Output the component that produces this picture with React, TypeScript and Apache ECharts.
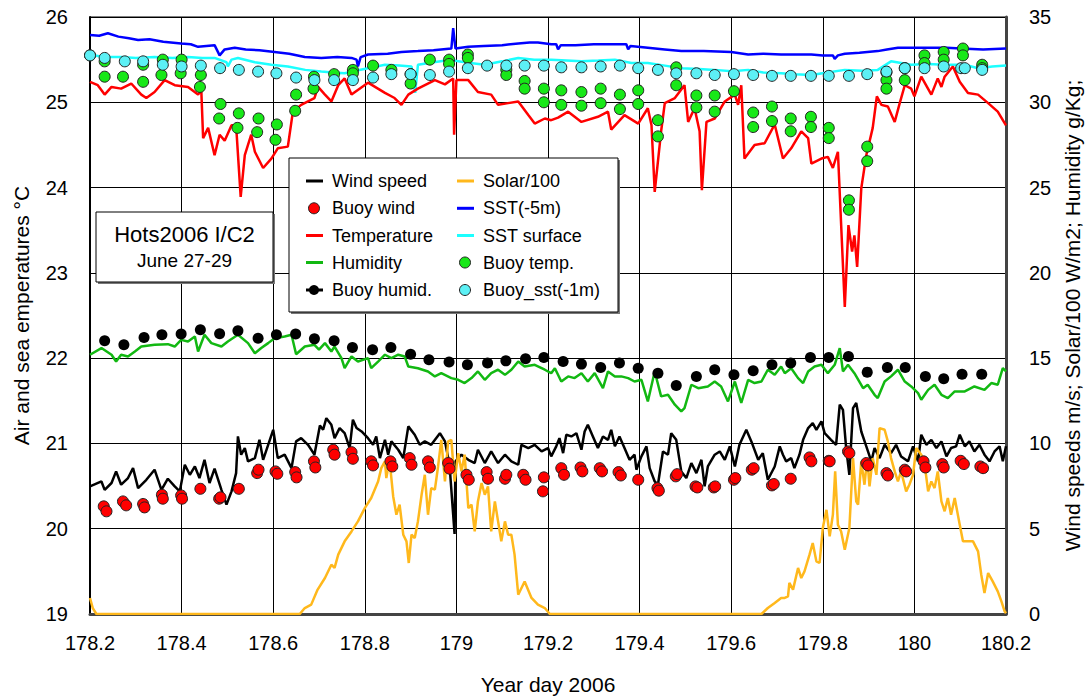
import React, { useEffect, useRef } from "react";
import * as echarts from "echarts";

const FONT = "'Liberation Sans', Arial, Helvetica, sans-serif";

// Axis ranges / ticks
const xMin = 178.2;
const xMax = 180.2;
const xStep = 0.2;
const leftMin = 19;
const leftMax = 26;
const rightMin = 0;
const rightMax = 35;
const rightStep = 5;

// Wind speed m/s (right axis)
const windSpeed: [number, number][] = [
  [178.200, 7.48], [178.225, 7.77], [178.232, 7.28], [178.247, 7.68], [178.257, 8.36], [178.268, 7.58],
  [178.283, 7.97], [178.294, 8.55], [178.305, 7.38], [178.323, 7.87], [178.341, 8.46], [178.356, 7.28],
  [178.370, 7.93], [178.385, 7.48], [178.396, 7.19], [178.407, 8.75], [178.418, 8.16], [178.429, 8.65],
  [178.439, 7.97], [178.450, 9.04], [178.461, 7.68], [178.472, 8.52], [178.487, 7.28], [178.498, 6.41],
  [178.509, 7.19], [178.519, 8.26], [178.523, 10.41], [178.530, 9.34], [178.538, 9.73], [178.545, 8.95],
  [178.560, 9.14], [178.570, 10.21], [178.578, 9.04], [178.589, 9.92], [178.600, 10.80], [178.610, 9.14],
  [178.625, 9.34], [178.640, 8.55], [178.650, 10.12], [178.661, 10.31], [178.676, 9.92], [178.690, 9.34],
  [178.702, 11.05], [178.709, 10.80], [178.716, 11.48], [178.727, 11.09], [178.734, 10.31], [178.745, 10.90],
  [178.756, 10.60], [178.767, 9.73], [178.774, 11.39], [178.782, 10.90], [178.793, 10.70], [178.807, 10.31],
  [178.818, 9.92], [178.825, 10.41], [178.833, 9.14], [178.844, 10.21], [178.851, 9.34], [178.858, 10.12],
  [178.873, 9.63], [178.884, 9.14], [178.895, 11.00], [178.909, 10.51], [178.920, 9.92], [178.931, 10.12],
  [178.945, 9.92], [178.964, 10.60], [178.975, 10.12], [178.985, 8.75], [178.996, 4.69], [178.998, 8.95],
  [179.011, 9.34], [179.026, 9.04], [179.040, 8.85], [179.047, 9.63], [179.062, 8.85], [179.076, 9.53],
  [179.091, 8.85], [179.106, 9.34], [179.120, 8.95], [179.135, 8.75], [179.142, 9.92], [179.157, 9.73],
  [179.171, 9.92], [179.186, 9.53], [179.200, 9.73], [179.207, 9.24], [179.218, 9.83], [179.225, 10.31],
  [179.233, 9.43], [179.240, 10.51], [179.251, 10.41], [179.262, 10.60], [179.273, 9.63], [179.280, 10.70],
  [179.287, 11.09], [179.298, 10.41], [179.309, 9.73], [179.320, 10.41], [179.331, 10.21], [179.338, 10.80],
  [179.346, 9.83], [179.356, 10.41], [179.367, 9.73], [179.378, 9.04], [179.389, 9.34], [179.393, 8.46],
  [179.404, 9.24], [179.415, 9.83], [179.422, 8.55], [179.433, 7.77], [179.440, 7.58], [179.451, 9.53],
  [179.462, 9.34], [179.469, 10.60], [179.480, 10.21], [179.491, 8.36], [179.502, 7.97], [179.513, 8.85],
  [179.524, 8.26], [179.535, 9.04], [179.542, 7.48], [179.549, 8.65], [179.564, 9.34], [179.575, 9.53],
  [179.586, 9.04], [179.597, 9.83], [179.608, 8.65], [179.618, 9.92], [179.633, 10.80], [179.644, 10.12],
  [179.659, 9.04], [179.669, 9.43], [179.680, 7.87], [179.695, 8.65], [179.706, 9.83], [179.713, 9.34],
  [179.720, 8.95], [179.731, 9.14], [179.738, 8.55], [179.749, 9.34], [179.757, 10.21], [179.768, 10.90],
  [179.778, 11.19], [179.786, 10.80], [179.797, 11.29], [179.804, 10.60], [179.818, 10.21], [179.829, 9.92],
  [179.837, 12.27], [179.844, 11.97], [179.851, 9.73], [179.858, 8.16], [179.866, 12.07], [179.873, 12.37],
  [179.884, 10.70], [179.895, 9.83], [179.906, 8.95], [179.913, 9.73], [179.924, 9.14], [179.935, 9.92],
  [179.949, 9.43], [179.960, 9.92], [179.971, 9.24], [179.986, 8.95], [179.997, 9.83], [180.008, 8.95],
  [180.015, 10.51], [180.026, 9.92], [180.037, 10.21], [180.048, 9.73], [180.059, 10.12], [180.070, 9.24],
  [180.080, 9.73], [180.091, 9.83], [180.099, 10.51], [180.110, 9.83], [180.120, 10.12], [180.131, 9.53],
  [180.142, 9.92], [180.153, 9.34], [180.164, 8.95], [180.175, 9.53], [180.186, 9.83], [180.193, 8.95],
  [180.200, 9.83],
];

// Buoy wind m/s (right axis)
const buoyWind: [number, number][] = [
  [178.199, 6.37], [178.230, 6.31], [178.236, 6.02], [178.272, 6.60], [178.279, 6.37], [178.316, 6.45],
  [178.319, 6.25], [178.357, 6.99], [178.359, 6.76], [178.399, 6.95], [178.401, 6.76], [178.441, 7.34],
  [178.482, 6.76], [178.485, 6.84], [178.525, 7.34], [178.565, 8.26], [178.568, 8.46], [178.605, 8.36],
  [178.609, 8.22], [178.648, 8.32], [178.651, 8.01], [178.689, 8.95], [178.692, 8.59], [178.731, 9.63],
  [178.734, 9.34], [178.771, 9.49], [178.774, 9.10], [178.814, 8.95], [178.818, 8.71], [178.856, 8.95],
  [178.860, 8.65], [178.898, 9.14], [178.902, 8.75], [178.938, 8.95], [178.942, 8.59], [178.982, 8.85],
  [178.985, 8.52], [179.022, 8.16], [179.027, 7.87], [179.066, 8.32], [179.069, 7.93], [179.106, 7.93],
  [179.109, 8.16], [179.146, 8.16], [179.151, 7.87], [179.191, 8.01], [179.189, 7.19], [179.229, 8.55],
  [179.235, 8.16], [179.271, 8.59], [179.275, 8.36], [179.313, 8.55], [179.318, 8.36], [179.354, 8.32],
  [179.359, 8.12], [179.397, 7.87], [179.439, 7.38], [179.442, 7.23], [179.479, 8.07], [179.482, 8.20],
  [179.522, 7.48], [179.526, 7.42], [179.562, 7.42], [179.565, 7.48], [179.606, 7.87], [179.609, 7.97],
  [179.645, 8.46], [179.649, 8.55], [179.689, 7.54], [179.693, 7.62], [179.730, 7.93], [179.771, 9.18],
  [179.775, 8.95], [179.813, 8.98], [179.815, 8.95], [179.855, 9.53], [179.858, 9.43], [179.895, 8.85],
  [179.899, 8.71], [179.939, 8.26], [179.942, 8.12], [179.979, 8.46], [179.982, 8.36], [180.020, 8.95],
  [180.024, 8.59], [180.061, 8.79], [180.064, 8.59], [180.101, 8.98], [180.108, 8.79], [180.144, 8.65],
  [180.150, 8.55],
];

// Air temperature degC (left axis)
const temperature: [number, number][] = [
  [178.200, 25.24], [178.217, 25.20], [178.232, 25.09], [178.247, 25.18], [178.268, 25.16], [178.290, 25.22],
  [178.312, 25.09], [178.323, 25.05], [178.341, 25.12], [178.363, 25.26], [178.385, 25.20], [178.414, 25.18],
  [178.436, 25.09], [178.443, 25.14], [178.447, 24.58], [178.458, 24.70], [178.472, 24.38], [178.483, 24.62],
  [178.494, 24.55], [178.509, 24.73], [178.519, 24.73], [178.529, 23.89], [178.538, 24.38], [178.552, 24.62],
  [178.560, 24.42], [178.578, 24.23], [178.596, 24.34], [178.610, 24.46], [178.632, 24.48], [178.643, 24.89],
  [178.661, 24.97], [178.690, 25.05], [178.698, 25.18], [178.713, 25.09], [178.727, 25.01], [178.742, 25.20],
  [178.756, 25.28], [178.771, 25.09], [178.807, 25.23], [178.844, 25.11], [178.865, 25.05], [178.880, 24.97],
  [178.895, 25.09], [178.916, 25.16], [178.953, 25.26], [178.975, 25.21], [178.993, 25.28], [178.995, 24.62],
  [179.000, 25.26], [179.026, 25.26], [179.047, 25.12], [179.076, 25.09], [179.091, 24.97], [179.113, 24.99],
  [179.135, 25.01], [179.157, 24.85], [179.171, 24.75], [179.193, 24.81], [179.207, 24.79], [179.222, 24.82],
  [179.244, 24.89], [179.273, 24.77], [179.309, 24.83], [179.331, 24.89], [179.338, 24.68], [179.367, 24.85],
  [179.397, 24.75], [179.418, 24.93], [179.426, 24.73], [179.433, 23.95], [179.447, 24.66], [179.455, 24.99],
  [179.477, 25.05], [179.498, 25.20], [179.506, 24.77], [179.520, 24.93], [179.531, 24.66], [179.536, 23.97],
  [179.546, 24.77], [179.564, 24.81], [179.586, 25.01], [179.608, 25.09], [179.615, 24.97], [179.622, 25.20],
  [179.629, 24.34], [179.651, 24.50], [179.673, 24.52], [179.695, 24.74], [179.713, 24.34], [179.731, 24.46],
  [179.753, 24.66], [179.768, 24.58], [179.775, 24.28], [179.797, 24.34], [179.811, 24.36], [179.822, 24.23],
  [179.833, 24.42], [179.848, 22.60], [179.856, 23.56], [179.864, 23.25], [179.869, 23.44], [179.875, 23.07],
  [179.884, 23.99], [179.895, 24.38], [179.909, 24.70], [179.918, 25.07], [179.928, 24.97], [179.942, 24.95],
  [179.957, 24.77], [179.968, 24.99], [179.979, 25.20], [179.993, 25.16], [180.000, 25.07], [180.015, 25.30],
  [180.037, 25.09], [180.051, 25.28], [180.059, 25.18], [180.066, 25.30], [180.084, 25.42], [180.099, 25.24],
  [180.117, 25.11], [180.139, 25.09], [180.161, 24.99], [180.182, 24.89], [180.200, 24.73],
];

// Humidity g/kg (right axis)
const humidity: [number, number][] = [
  [178.200, 15.20], [178.225, 15.59], [178.247, 15.20], [178.257, 14.80], [178.268, 15.20], [178.283, 15.10],
  [178.298, 15.39], [178.312, 15.68], [178.341, 15.78], [178.370, 15.82], [178.385, 15.68], [178.399, 16.07],
  [178.414, 15.98], [178.429, 16.27], [178.436, 15.39], [178.450, 16.37], [178.465, 15.88], [178.487, 15.68],
  [178.501, 15.98], [178.523, 16.37], [178.545, 15.88], [178.560, 15.29], [178.574, 15.59], [178.589, 15.88],
  [178.603, 16.17], [178.625, 16.27], [178.640, 16.37], [178.650, 15.23], [178.669, 15.68], [178.690, 15.78],
  [178.700, 15.50], [178.713, 15.88], [178.727, 15.39], [178.734, 15.68], [178.749, 15.00], [178.756, 14.41],
  [178.771, 15.10], [178.785, 14.80], [178.807, 15.00], [178.814, 14.41], [178.829, 14.80], [178.844, 15.20],
  [178.858, 15.00], [178.873, 15.20], [178.887, 15.10], [178.895, 14.51], [178.916, 14.41], [178.938, 14.22],
  [178.953, 13.93], [178.967, 14.12], [178.989, 13.83], [179.004, 13.73], [179.018, 13.54], [179.033, 13.83],
  [179.047, 14.22], [179.062, 13.73], [179.076, 14.12], [179.091, 14.32], [179.106, 14.02], [179.120, 14.32],
  [179.135, 14.80], [179.149, 14.51], [179.171, 14.61], [179.193, 14.32], [179.207, 14.12], [179.215, 14.41],
  [179.229, 13.63], [179.244, 13.93], [179.258, 13.83], [179.273, 14.12], [179.287, 13.63], [179.302, 14.12],
  [179.320, 13.24], [179.331, 14.22], [179.346, 13.93], [179.360, 13.93], [179.375, 13.83], [179.389, 13.63],
  [179.404, 13.73], [179.418, 12.46], [179.433, 14.22], [179.447, 12.76], [179.462, 12.85], [179.477, 12.27],
  [179.491, 11.88], [179.498, 12.07], [179.513, 13.44], [179.528, 13.24], [179.549, 13.34], [179.564, 13.63],
  [179.578, 13.34], [179.593, 12.46], [179.608, 13.63], [179.622, 12.37], [179.637, 13.73], [179.651, 13.54],
  [179.666, 13.63], [179.680, 14.32], [179.695, 14.02], [179.709, 14.51], [179.717, 14.12], [179.731, 14.41],
  [179.746, 13.83], [179.757, 13.54], [179.768, 14.22], [179.782, 14.51], [179.797, 14.61], [179.811, 14.12],
  [179.826, 14.61], [179.837, 15.59], [179.844, 14.22], [179.855, 14.61], [179.869, 14.12], [179.888, 13.24],
  [179.898, 13.44], [179.913, 12.85], [179.920, 12.66], [179.935, 13.63], [179.949, 13.93], [179.964, 14.32],
  [179.979, 13.63], [179.993, 13.34], [180.008, 12.95], [180.015, 12.56], [180.030, 13.14], [180.044, 13.44],
  [180.059, 12.85], [180.073, 12.66], [180.088, 13.05], [180.110, 13.05], [180.131, 13.34], [180.153, 13.14],
  [180.168, 13.54], [180.182, 13.44], [180.193, 14.41], [180.200, 14.22],
];

// Buoy humidity g/kg (right axis)
const buoyHumid: [number, number][] = [
  [178.199, 15.88], [178.232, 16.02], [178.274, 15.78], [178.318, 16.21], [178.357, 16.37], [178.399, 16.41],
  [178.441, 16.66], [178.483, 16.43], [178.523, 16.60], [178.567, 16.17], [178.607, 16.37], [178.649, 16.41],
  [178.690, 16.13], [178.733, 16.02], [178.773, 15.63], [178.817, 15.49], [178.857, 15.63], [178.900, 15.23],
  [178.940, 14.90], [178.984, 14.77], [179.024, 14.61], [179.068, 14.71], [179.108, 14.84], [179.151, 14.96],
  [179.191, 15.04], [179.233, 14.80], [179.273, 14.65], [179.315, 14.45], [179.356, 14.71], [179.397, 14.41],
  [179.440, 14.12], [179.480, 13.40], [179.524, 13.93], [179.564, 14.32], [179.606, 14.02], [179.648, 14.26],
  [179.689, 14.61], [179.730, 14.71], [179.773, 15.04], [179.813, 15.04], [179.856, 15.10], [179.897, 14.18],
  [179.941, 14.45], [179.980, 14.45], [180.024, 13.93], [180.064, 13.79], [180.104, 14.06], [180.147, 14.06],
];

// Solar radiation / 100 (right axis)
const solar: [number, number][] = [
  [178.200, 0.94], [178.206, 0.35], [178.214, 0.0], [178.658, 0.0], [178.669, 0.35], [178.683, 0.55],
  [178.697, 1.43], [178.713, 2.11], [178.727, 2.89], [178.734, 2.70], [178.742, 3.48], [178.756, 4.26],
  [178.771, 4.84], [178.785, 5.43], [178.800, 6.21], [178.814, 6.80], [178.829, 7.77], [178.836, 8.55],
  [178.844, 8.95], [178.847, 7.97], [178.854, 9.04], [178.862, 6.89], [178.869, 5.82], [178.876, 6.41],
  [178.884, 4.65], [178.891, 4.26], [178.896, 2.99], [178.902, 4.65], [178.909, 4.45], [178.916, 5.43],
  [178.924, 6.99], [178.931, 8.16], [178.938, 5.82], [178.945, 7.38], [178.953, 7.29], [178.960, 8.65],
  [178.967, 10.21], [178.975, 7.77], [178.982, 10.12], [178.989, 10.21], [178.996, 7.77], [179.004, 9.43],
  [179.011, 8.36], [179.018, 9.34], [179.026, 6.21], [179.033, 6.41], [179.040, 4.84], [179.047, 6.60],
  [179.055, 7.68], [179.062, 6.99], [179.069, 7.48], [179.076, 4.84], [179.084, 6.60], [179.091, 5.43],
  [179.098, 4.26], [179.106, 5.43], [179.113, 4.65], [179.120, 4.65], [179.127, 3.48], [179.135, 1.13],
  [179.149, 1.91], [179.164, 0.94], [179.178, 0.55], [179.193, 0.35], [179.204, 0.0], [179.666, 0.0],
  [179.680, 0.35], [179.695, 0.65], [179.709, 0.94], [179.717, 0.94], [179.724, 1.03], [179.727, 1.82],
  [179.735, 1.43], [179.746, 2.70], [179.753, 2.11], [179.760, 2.50], [179.771, 3.48], [179.778, 4.16],
  [179.786, 3.09], [179.793, 2.99], [179.800, 5.04], [179.808, 6.11], [179.815, 4.55], [179.822, 5.82],
  [179.827, 8.36], [179.833, 5.23], [179.840, 4.84], [179.848, 3.77], [179.858, 5.04], [179.866, 9.14],
  [179.873, 6.60], [179.877, 6.41], [179.884, 8.95], [179.891, 7.58], [179.897, 9.14], [179.902, 7.48],
  [179.909, 9.14], [179.917, 8.16], [179.924, 10.90], [179.935, 10.80], [179.942, 10.12], [179.949, 9.14],
  [179.957, 8.36], [179.964, 7.77], [179.971, 8.36], [179.982, 7.19], [179.989, 7.58], [179.997, 8.16],
  [180.004, 9.73], [180.015, 9.34], [180.022, 8.85], [180.030, 7.19], [180.037, 7.77], [180.044, 7.38],
  [180.051, 8.36], [180.059, 6.60], [180.066, 6.02], [180.073, 6.80], [180.080, 5.82], [180.088, 6.80],
  [180.099, 5.23], [180.106, 4.26], [180.117, 4.26], [180.128, 4.26], [180.139, 3.67], [180.146, 2.30],
  [180.153, 1.23], [180.161, 2.40], [180.171, 1.91], [180.182, 1.33], [180.190, 0.74], [180.197, 0.16],
  [180.200, 0.05],
];

// SST at -5 m degC (left axis)
const sst5m: [number, number][] = [
  [178.200, 25.79], [178.220, 25.78], [178.239, 25.81], [178.262, 25.77], [178.285, 25.75], [178.305, 25.73],
  [178.330, 25.74], [178.360, 25.71], [178.399, 25.69], [178.420, 25.68], [178.436, 25.65], [178.472, 25.67],
  [178.483, 25.55], [178.494, 25.62], [178.516, 25.64], [178.540, 25.62], [178.570, 25.61], [178.603, 25.59],
  [178.635, 25.57], [178.669, 25.53], [178.705, 25.52], [178.740, 25.53], [178.771, 25.52], [178.782, 25.50],
  [178.785, 25.42], [178.791, 25.53], [178.807, 25.56], [178.850, 25.57], [178.880, 25.59], [178.916, 25.60],
  [178.950, 25.61], [178.989, 25.63], [178.993, 25.87], [178.998, 25.63], [179.026, 25.65], [179.060, 25.66],
  [179.100, 25.67], [179.135, 25.69], [179.160, 25.70], [179.178, 25.70], [179.207, 25.68], [179.218, 25.68],
  [179.222, 25.62], [179.228, 25.67], [179.260, 25.67], [179.300, 25.68], [179.346, 25.68], [179.371, 25.68],
  [179.375, 25.62], [179.380, 25.66], [179.418, 25.64], [179.455, 25.62], [179.491, 25.60], [179.540, 25.60],
  [179.600, 25.59], [179.637, 25.56], [179.670, 25.57], [179.709, 25.56], [179.740, 25.56], [179.775, 25.56],
  [179.800, 25.55], [179.822, 25.55], [179.826, 25.51], [179.833, 25.55], [179.848, 25.57], [179.880, 25.58],
  [179.920, 25.60], [179.940, 25.62], [179.964, 25.64], [180.000, 25.64], [180.030, 25.64], [180.070, 25.64],
  [180.102, 25.63], [180.150, 25.62], [180.200, 25.63],
];

// SST surface degC (left axis)
const sstSurface: [number, number][] = [
  [178.200, 25.56], [178.220, 25.54], [178.239, 25.53], [178.268, 25.53], [178.300, 25.52], [178.341, 25.53],
  [178.380, 25.52], [178.414, 25.53], [178.445, 25.52], [178.472, 25.52], [178.498, 25.47], [178.501, 25.42],
  [178.509, 25.50], [178.523, 25.52], [178.560, 25.47], [178.596, 25.44], [178.632, 25.42], [178.670, 25.38],
  [178.705, 25.36], [178.730, 25.35], [178.756, 25.34], [178.780, 25.37], [178.807, 25.40], [178.844, 25.44],
  [178.875, 25.43], [178.902, 25.42], [178.910, 25.11], [178.916, 25.44], [178.950, 25.47], [178.989, 25.50],
  [179.004, 25.48], [179.030, 25.46], [179.062, 25.44], [179.100, 25.48], [179.135, 25.52], [179.170, 25.50],
  [179.207, 25.50], [179.240, 25.49], [179.273, 25.48], [179.310, 25.49], [179.346, 25.50], [179.382, 25.46],
  [179.418, 25.46], [179.455, 25.43], [179.491, 25.40], [179.530, 25.39], [179.564, 25.38], [179.608, 25.36],
  [179.611, 25.28], [179.615, 25.37], [179.637, 25.38], [179.670, 25.35], [179.709, 25.34], [179.740, 25.33],
  [179.775, 25.32], [179.810, 25.35], [179.848, 25.38], [179.885, 25.37], [179.920, 25.38], [179.949, 25.48],
  [179.993, 25.44], [180.030, 25.45], [180.066, 25.44], [180.110, 25.44], [180.139, 25.40], [180.170, 25.42],
  [180.200, 25.43],
];

// Buoy temperature degC (left axis)
const buoyTemp: [number, number][] = [
  [178.200, 25.55], [178.232, 25.48], [178.232, 25.30], [178.272, 25.30], [178.316, 25.44], [178.316, 25.24],
  [178.359, 25.50], [178.356, 25.32], [178.400, 25.50], [178.398, 25.34], [178.442, 25.32], [178.440, 25.18],
  [178.485, 24.98], [178.482, 24.81], [178.525, 24.87], [178.522, 24.70], [178.568, 24.81], [178.565, 24.65],
  [178.608, 24.74], [178.605, 24.56], [178.650, 25.09], [178.648, 24.90], [178.689, 25.30], [178.688, 25.16],
  [178.733, 25.33], [178.774, 25.38], [178.774, 25.34], [178.818, 25.43], [178.858, 25.38], [178.900, 25.33],
  [178.900, 25.22], [178.942, 25.50], [178.984, 25.50], [178.984, 25.45], [179.025, 25.56], [179.025, 25.52],
  [179.109, 25.38], [179.109, 25.32], [179.149, 25.25], [179.149, 25.16], [179.191, 25.16], [179.191, 25.00],
  [179.229, 25.14], [179.229, 24.97], [179.273, 25.12], [179.273, 24.96], [179.315, 25.16], [179.315, 24.99],
  [179.357, 25.09], [179.357, 24.92], [179.397, 25.14], [179.397, 24.98], [179.440, 24.79], [179.440, 24.60],
  [179.480, 25.41], [179.480, 25.20], [179.524, 25.08], [179.524, 24.94], [179.564, 25.08], [179.564, 24.89],
  [179.606, 25.13], [179.648, 24.88], [179.648, 24.71], [179.689, 24.95], [179.689, 24.78], [179.730, 24.81],
  [179.730, 24.66], [179.774, 24.83], [179.774, 24.71], [179.813, 24.70], [179.813, 24.58], [179.857, 23.85],
  [179.857, 23.74], [179.897, 24.48], [179.897, 24.31], [179.939, 25.35], [179.939, 25.26], [179.939, 25.16],
  [179.979, 25.40], [179.979, 25.26], [180.022, 25.55], [180.022, 25.46], [180.064, 25.59], [180.064, 25.50],
  [180.106, 25.63], [180.106, 25.55], [180.148, 25.44], [180.148, 25.40],
];

// Buoy SST at -1 m degC (left axis)
const buoySst: [number, number][] = [
  [178.200, 25.55], [178.232, 25.52], [178.276, 25.48], [178.316, 25.48], [178.359, 25.44], [178.400, 25.42],
  [178.442, 25.43], [178.484, 25.40], [178.525, 25.38], [178.567, 25.36], [178.607, 25.34], [178.650, 25.29],
  [178.690, 25.26], [178.733, 25.26], [178.774, 25.26], [178.818, 25.29], [178.858, 25.33], [178.900, 25.33],
  [178.942, 25.32], [178.984, 25.36], [179.025, 25.40], [179.067, 25.43], [179.109, 25.43], [179.149, 25.43],
  [179.191, 25.43], [179.229, 25.41], [179.273, 25.41], [179.315, 25.42], [179.357, 25.43], [179.397, 25.40],
  [179.440, 25.38], [179.480, 25.34], [179.524, 25.34], [179.564, 25.32], [179.606, 25.33], [179.648, 25.32],
  [179.689, 25.31], [179.730, 25.31], [179.774, 25.31], [179.813, 25.31], [179.857, 25.31], [179.897, 25.33],
  [179.939, 25.36], [179.979, 25.40], [180.022, 25.40], [180.064, 25.42], [180.102, 25.40], [180.110, 25.40],
  [180.148, 25.38],
];

const legendCol1 = ["Wind speed", "Buoy wind", "Temperature", "Humidity", "Buoy humid."];
const legendCol2 = ["Solar/100", "SST(-5m)", "SST surface", "Buoy temp.", "Buoy_sst(-1m)"];
const titleLines = ["Hots2006 I/C2", "June 27-29"];

const C = {
  wind: "#000000",
  buoyWind: "#FF0000",
  temp: "#FF0000",
  humid: "#12B812",
  buoyHumid: "#000000",
  solar: "#FFB81C",
  sst5: "#0000FF",
  sstSurf: "#1CFFFF",
  buoyTemp: "#18E818",
  buoySst: "#5CF0F5",
};

type Sym = { kind: "line" | "dot" | "lineDot"; color: string };
const legendSyms1: Sym[] = [
  { kind: "line", color: C.wind },
  { kind: "dot", color: C.buoyWind },
  { kind: "line", color: C.temp },
  { kind: "line", color: C.humid },
  { kind: "lineDot", color: C.buoyHumid },
];
const legendSyms2: Sym[] = [
  { kind: "line", color: C.solar },
  { kind: "line", color: C.sst5 },
  { kind: "line", color: C.sstSurf },
  { kind: "dot", color: C.buoyTemp },
  { kind: "dot", color: C.buoySst },
];

function buildLegend(): any[] {
  const els: any[] = [];
  const bx = 289, by = 158, bw = 329, bh = 154;
  els.push({ type: "rect", z: 100, shape: { x: bx + 2, y: by + 2, width: bw, height: bh }, style: { fill: "#777" } });
  els.push({ type: "rect", z: 101, shape: { x: bx, y: by, width: bw, height: bh }, style: { fill: "#fff", stroke: "#000", lineWidth: 1 } });
  const rows = [181, 208.3, 235.5, 262.5, 290];
  const cols = [
    { sx: 306, ex: 323, cx: 314, tx: 332, labels: legendCol1, syms: legendSyms1 },
    { sx: 457, ex: 474, cx: 465, tx: 483, labels: legendCol2, syms: legendSyms2 },
  ];
  cols.forEach((col) => {
    col.labels.forEach((lab, i) => {
      const y = rows[i];
      const s = col.syms[i];
      if (s.kind === "line" || s.kind === "lineDot") {
        els.push({ type: "line", z: 102, shape: { x1: col.sx, y1: y, x2: col.ex, y2: y }, style: { stroke: s.color, lineWidth: 3 } });
      }
      if (s.kind === "lineDot") {
        els.push({ type: "circle", z: 103, shape: { cx: col.cx, cy: y, r: 5 }, style: { fill: s.color } });
      }
      if (s.kind === "dot") {
        els.push({ type: "circle", z: 103, shape: { cx: col.cx, cy: y, r: 5.5 }, style: { fill: s.color, stroke: "#222", lineWidth: 1 } });
      }
      els.push({
        type: "text", z: 103, x: col.tx, y: y,
        style: { text: lab, fontSize: 18, fontFamily: FONT, fill: "#000", align: "left", verticalAlign: "middle" },
      });
    });
  });
  // title box
  const tx = 96, ty = 212, tw = 177, th = 70;
  els.push({ type: "rect", z: 100, shape: { x: tx + 2, y: ty + 2, width: tw, height: th }, style: { fill: "#777" } });
  els.push({ type: "rect", z: 101, shape: { x: tx, y: ty, width: tw, height: th }, style: { fill: "#fff", stroke: "#000", lineWidth: 1 } });
  els.push({ type: "text", z: 103, x: tx + tw / 2, y: 234, style: { text: titleLines[0], fontSize: 22, fontFamily: FONT, fill: "#000", align: "center", verticalAlign: "middle" } });
  els.push({ type: "text", z: 103, x: tx + tw / 2, y: 260, style: { text: titleLines[1], fontSize: 19, fontFamily: FONT, fill: "#000", align: "center", verticalAlign: "middle" } });
  return els;
}

function lineSeries(name: string, data: [number, number][], color: string, yAxisIndex: number, z = 2) {
  return {
    name, type: "line", data, yAxisIndex, z, showSymbol: false, symbol: "none",
    lineStyle: { color, width: 2.5 }, itemStyle: { color }, silent: true,
  };
}
function scatterSeries(name: string, data: [number, number][], color: string, yAxisIndex: number, border: boolean, z = 5) {
  return {
    name, type: "scatter", data, yAxisIndex, z, symbol: "circle", symbolSize: 11,
    itemStyle: { color, borderColor: border ? "#222" : color, borderWidth: border ? 1 : 0, opacity: 1 }, silent: true,
  };
}

const fmtX = (v: number) => String(Math.round(v * 10) / 10);

export default function App() {
  const ref = useRef<HTMLDivElement>(null);
  useEffect(() => {
    if (!ref.current) return;
    const chart = echarts.init(ref.current, undefined, { renderer: "svg" });
    const option: any = {
      animation: false,
      backgroundColor: "#fff",
      textStyle: { fontFamily: FONT },
      grid: {
        left: 90, right: 80, top: 17, bottom: 84, show: true, borderColor: "#000", borderWidth: 1,
        backgroundColor: "transparent", containLabel: false, outerBoundsMode: "none",
      },
      xAxis: {
        type: "value", min: xMin, max: xMax, interval: xStep,
        name: "Year day 2006", nameLocation: "middle", nameGap: 60,
        nameTextStyle: { fontSize: 21, color: "#000", fontFamily: FONT },
        axisLine: { show: true, onZero: false, lineStyle: { color: "#444", width: 3 } },
        axisTick: { show: false },
        axisLabel: { formatter: fmtX, fontSize: 20, color: "#000", fontFamily: FONT, margin: 19 },
        splitLine: { show: true, lineStyle: { color: "#000", width: 1 } },
      },
      yAxis: [
        {
          type: "value", position: "left", min: leftMin, max: leftMax, interval: 1,
          name: "Air and sea emperatures °C", nameLocation: "middle", nameGap: 58, nameRotate: 90,
          nameTextStyle: { fontSize: 21, color: "#000", fontFamily: FONT },
          axisLine: { show: true, onZero: false, lineStyle: { color: "#000", width: 2 } },
          axisTick: { show: false },
          axisLabel: { fontSize: 20, color: "#000", fontFamily: FONT, margin: 22 },
          splitLine: { show: true, lineStyle: { color: "#000", width: 1 } },
        },
        {
          type: "value", position: "right", min: rightMin, max: rightMax, interval: rightStep,
          name: "Wind speeds m/s; Solar/100 W/m2; Humidity g/Kg;", nameLocation: "middle", nameGap: 56, nameRotate: 90,
          nameTextStyle: { fontSize: 21, color: "#000", fontFamily: FONT },
          axisLine: { show: true, onZero: false, lineStyle: { color: "#444", width: 3 } },
          axisTick: { show: false },
          axisLabel: { fontSize: 20, color: "#000", fontFamily: FONT, margin: 23 },
          splitLine: { show: false },
        },
      ],
      series: [
        lineSeries("SST(-5m)", sst5m, C.sst5, 0),
        lineSeries("SST surface", sstSurface, C.sstSurf, 0),
        lineSeries("Humidity", humidity, C.humid, 1),
        lineSeries("Temperature", temperature, C.temp, 0),
        lineSeries("Wind speed", windSpeed, C.wind, 1),
        lineSeries("Solar/100", solar, C.solar, 1, 3),
        scatterSeries("Buoy humid.", buoyHumid, C.buoyHumid, 1, false),
        scatterSeries("Buoy wind", buoyWind, C.buoyWind, 1, true),
        scatterSeries("Buoy temp.", buoyTemp, C.buoyTemp, 0, true),
        scatterSeries("Buoy_sst(-1m)", buoySst, C.buoySst, 0, true, 6),
      ],
      graphic: buildLegend(),
    };
    chart.setOption(option);
    return () => chart.dispose();
  }, []);
  return <div ref={ref} style={{ position: "absolute", left: 0, top: 0, width: 1086, height: 698, background: "#fff" }} />;
}
